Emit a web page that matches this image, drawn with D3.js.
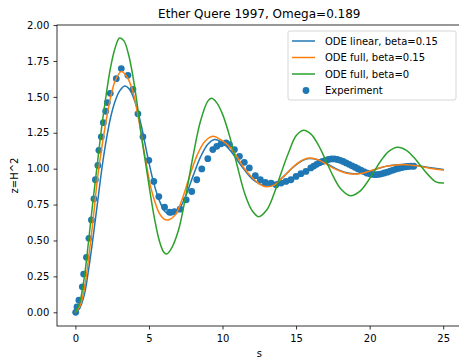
<!DOCTYPE html>
<html>
<head>
<meta charset="utf-8">
<script src="https://cdn.jsdelivr.net/npm/d3@7"></script>
<style>
  body { margin: 0; background: #fff; }
  svg { display: block; font-family: "DejaVu Sans", sans-serif; }
</style>
</head>
<body>
<svg></svg>
<script>
var width = 459;
var height = 359;

// ODE linear, beta=0.15  [s, z]
var linearBeta = [[0,0],[0.3,0.03],[0.6,0.12],[0.9,0.3],[1.2,0.52],[1.5,0.76],[1.8,1.0],[2.1,1.2],[2.4,1.36],[2.7,1.47],[3.0,1.54],[3.35,1.576],[3.7,1.55],[4.1,1.45],[4.5,1.29],[4.9,1.09],[5.3,0.91],[5.7,0.78],[6.1,0.7],[6.5,0.678],[7.0,0.71],[7.5,0.81],[8.0,0.95],[8.5,1.08],[9.0,1.17],[9.45,1.203],[10.0,1.18],[10.5,1.13],[11.0,1.06],[11.5,0.99],[12.0,0.93],[12.5,0.895],[13.0,0.88],[13.6,0.9],[14.2,0.95],[14.8,1.01],[15.4,1.055],[15.9,1.07],[16.5,1.06],[17.1,1.035],[17.7,1.0],[18.3,0.975],[18.9,0.965],[19.5,0.97],[20.1,0.985],[20.7,1.005],[21.3,1.02],[21.9,1.028],[22.6,1.03],[23.3,1.02],[24.0,1.008],[25.0,0.995]];

// ODE full, beta=0.15
var fullBeta = [[0,0],[0.3,0.04],[0.6,0.16],[0.9,0.38],[1.2,0.64],[1.5,0.93],[1.8,1.15],[2.1,1.34],[2.4,1.5],[2.7,1.61],[3.12,1.676],[3.5,1.64],[3.9,1.54],[4.3,1.343],[4.6,1.16],[4.85,1.016],[5.1,0.88],[5.4,0.77],[5.7,0.69],[6.0,0.65],[6.3,0.643],[6.8,0.68],[7.3,0.8],[7.8,0.96],[8.3,1.1],[8.8,1.19],[9.34,1.226],[9.9,1.2],[10.5,1.15],[11.0,1.08],[11.5,1.0],[12.0,0.94],[12.5,0.895],[12.95,0.874],[13.5,0.885],[14.0,0.93],[14.4,0.97],[15.0,1.03],[15.75,1.073],[16.4,1.065],[17.0,1.035],[17.6,1.0],[18.2,0.975],[18.8,0.963],[19.4,0.966],[20.0,0.983],[20.6,1.003],[21.2,1.018],[21.8,1.026],[22.5,1.028],[23.2,1.02],[24.0,1.005],[25.0,0.99]];

// ODE full, beta=0
var fullNoBeta = [[0,0],[0.3,0.07],[0.6,0.24],[0.9,0.5],[1.2,0.78],[1.5,1.04],[1.8,1.3],[2.1,1.52],[2.4,1.71],[2.7,1.84],[3.0,1.91],[3.3,1.89],[3.6,1.8],[3.9,1.65],[4.2,1.45],[4.5,1.22],[4.8,1.02],[5.1,0.82],[5.4,0.64],[5.7,0.5],[6.0,0.42],[6.2,0.406],[6.5,0.44],[7.0,0.57],[7.5,0.81],[8.0,1.09],[8.5,1.33],[9.0,1.47],[9.25,1.49],[9.6,1.46],[10.0,1.38],[10.5,1.22],[11.0,1.02],[11.5,0.83],[12.0,0.71],[12.45,0.666],[13.0,0.712],[13.5,0.825],[14.0,0.975],[14.5,1.114],[15.0,1.229],[15.5,1.268],[16.0,1.242],[16.5,1.167],[17.0,1.062],[17.5,0.952],[18.0,0.864],[18.7,0.811],[19.3,0.84],[19.8,0.9],[20.3,0.98],[20.8,1.06],[21.3,1.12],[21.9,1.149],[22.5,1.127],[23.0,1.079],[23.5,1.016],[24.0,0.955],[24.5,0.908],[25.0,0.9]];

// Experiment
var experiment = [[0.02,0.0],[0.11,0.037],[0.24,0.084],[0.47,0.177],[0.56,0.266],[0.75,0.383],[0.92,0.515],[1.09,0.643],[1.26,0.79],[1.36,0.923],[1.53,1.023],[1.6,1.128],[1.76,1.222],[1.9,1.32],[2.06,1.4],[2.17,1.46],[2.37,1.525],[2.78,1.627],[3.12,1.697],[3.57,1.65],[3.91,1.552],[4.25,1.382],[4.59,1.222],[4.99,1.058],[5.33,0.911],[5.67,0.806],[6.06,0.732],[6.4,0.697],[6.73,0.701],[7.12,0.718],[7.53,0.783],[7.91,0.841],[8.25,0.923],[8.59,0.998],[9.0,1.07],[9.34,1.133],[9.61,1.156],[9.9,1.173],[10.24,1.18],[10.47,1.168],[10.81,1.133],[11.15,1.086],[11.48,1.044],[11.82,1.005],[12.23,0.951],[12.57,0.923],[12.91,0.904],[13.3,0.9],[13.64,0.888],[13.98,0.9],[14.31,0.911],[14.65,0.923],[15.0,0.946],[15.33,0.965],[15.67,0.981],[16.0,1.005],[16.2,1.018],[16.4,1.03],[16.6,1.042],[16.8,1.05],[17.0,1.058],[17.2,1.064],[17.4,1.068],[17.6,1.068],[17.8,1.064],[18.0,1.058],[18.2,1.05],[18.4,1.04],[18.6,1.03],[18.8,1.02],[19.0,1.01],[19.2,1.0],[19.4,0.99],[19.6,0.98],[19.8,0.97],[20.0,0.964],[20.2,0.96],[20.4,0.958],[20.6,0.96],[20.8,0.964],[21.0,0.97],[21.2,0.976],[21.4,0.983],[21.6,0.99],[21.8,0.997],[22.0,1.003],[22.2,1.008],[22.4,1.012],[22.6,1.015],[22.8,1.017],[23.0,1.017]];

var seriesNames = ['ODE linear, beta=0.15', 'ODE full, beta=0.15', 'ODE full, beta=0', 'Experiment'];
var seriesColors = ['#1f77b4', '#ff7f0e', '#2ca02c', '#1f77b4'];

var xTicks = [0, 5, 10, 15, 20, 25];
var yTicks = [0, 0.25, 0.5, 0.75, 1.0, 1.25, 1.5, 1.75, 2.0];

var plotLeft = 57, plotRight = 461.6, plotTop = 25, plotBottom = 326;

var xScale = d3.scaleLinear()
        .domain([-1.25, 26.25])
        .range([plotLeft, plotRight]);

var yScale = d3.scaleLinear()
        .domain([-0.0955, 2.0005])
        .range([plotBottom, plotTop]);

var svg = d3.select('svg')
      .attr('width', width)
      .attr('height', height);

var line = d3.line()
      .x(d => xScale(d[0]))
      .y(d => yScale(d[1]))
      .curve(d3.curveCatmullRom);

// scatter first (matplotlib draws lines above collections)
svg.append('g')
  .selectAll('circle')
  .data(experiment)
  .enter()
  .append('circle')
    .attr('cx', d => xScale(d[0]))
    .attr('cy', d => yScale(d[1]))
    .attr('r', 3.4)
    .attr('fill', seriesColors[3]);

[linearBeta, fullBeta, fullNoBeta].forEach(function(data, i) {
  svg.append('path')
    .datum(data)
    .attr('d', line)
    .attr('fill', 'none')
    .attr('stroke', seriesColors[i])
    .attr('stroke-width', 1.5)
    .attr('stroke-linejoin', 'round')
    .attr('stroke-linecap', 'square');
});

// axes
var xAxis = d3.axisBottom(xScale)
        .tickValues(xTicks)
        .tickSize(3.5)
        .tickPadding(5.5)
        .tickSizeOuter(0);

var yAxis = d3.axisLeft(yScale)
        .tickValues(yTicks)
        .tickFormat(d3.format('.2f'))
        .tickSize(3.5)
        .tickPadding(4.2)
        .tickSizeOuter(0);

svg.append('g')
  .attr('transform', `translate(0, ${plotBottom})`)
  .call(xAxis);

svg.append('g')
  .attr('transform', `translate(${plotLeft}, 0)`)
  .call(yAxis);

svg.selectAll('.tick text')
  .attr('font-family', '"DejaVu Sans", sans-serif')
  .attr('font-size', 10)
  .attr('fill', '#000');
svg.selectAll('.tick line').attr('stroke', '#000').attr('stroke-width', 0.8);
svg.selectAll('.domain').remove();

// spines
svg.append('rect')
  .attr('x', plotLeft)
  .attr('y', plotTop)
  .attr('width', plotRight - plotLeft)
  .attr('height', plotBottom - plotTop)
  .attr('fill', 'none')
  .attr('stroke', '#000')
  .attr('stroke-width', 0.8);

//title
svg.append('text')
  .attr('x', (plotLeft + plotRight) / 2)
  .attr('y', 18)
  .style('text-anchor', 'middle')
  .style('font-size', '12px')
  .text('Ether Quere 1997, Omega=0.189');

//x-axis label
svg.append('text')
  .attr('x', (plotLeft + plotRight) / 2)
  .attr('y', 357)
  .style('text-anchor', 'middle')
  .style('font-size', '10px')
  .text('s');

//y-axis label
svg.append('text')
  .attr('transform', 'rotate(-90)')
  .attr('x', -(plotTop + plotBottom) / 2)
  .attr('y', 18)
  .style('text-anchor', 'middle')
  .style('font-size', '10px')
  .text('z=H^2');

// legend
var legend = svg.append('g').attr('transform', 'translate(288, 31)');

legend.append('rect')
  .attr('width', 168)
  .attr('height', 69)
  .attr('rx', 2)
  .attr('fill', '#fff')
  .attr('fill-opacity', 0.8)
  .attr('stroke', '#cccccc')
  .attr('stroke-width', 0.8);

var rows = legend.selectAll('g.row')
  .data(seriesNames)
  .enter()
  .append('g')
    .attr('class', 'row')
    .attr('transform', (d, i) => `translate(0, ${10 + i * 16.5})`);

rows.filter((d, i) => i < 3)
  .append('line')
    .attr('x1', 4)
    .attr('x2', 27)
    .attr('stroke', (d, i) => seriesColors[i])
    .attr('stroke-width', 1.5);

rows.filter((d, i) => i === 3)
  .append('circle')
    .attr('cx', 18)
    .attr('r', 3.4)
    .attr('fill', seriesColors[3]);

rows.append('text')
  .attr('x', 37)
  .attr('dy', '0.35em')
  .style('font-size', '10px')
  .text(d => d);
</script>
</body>
</html>
